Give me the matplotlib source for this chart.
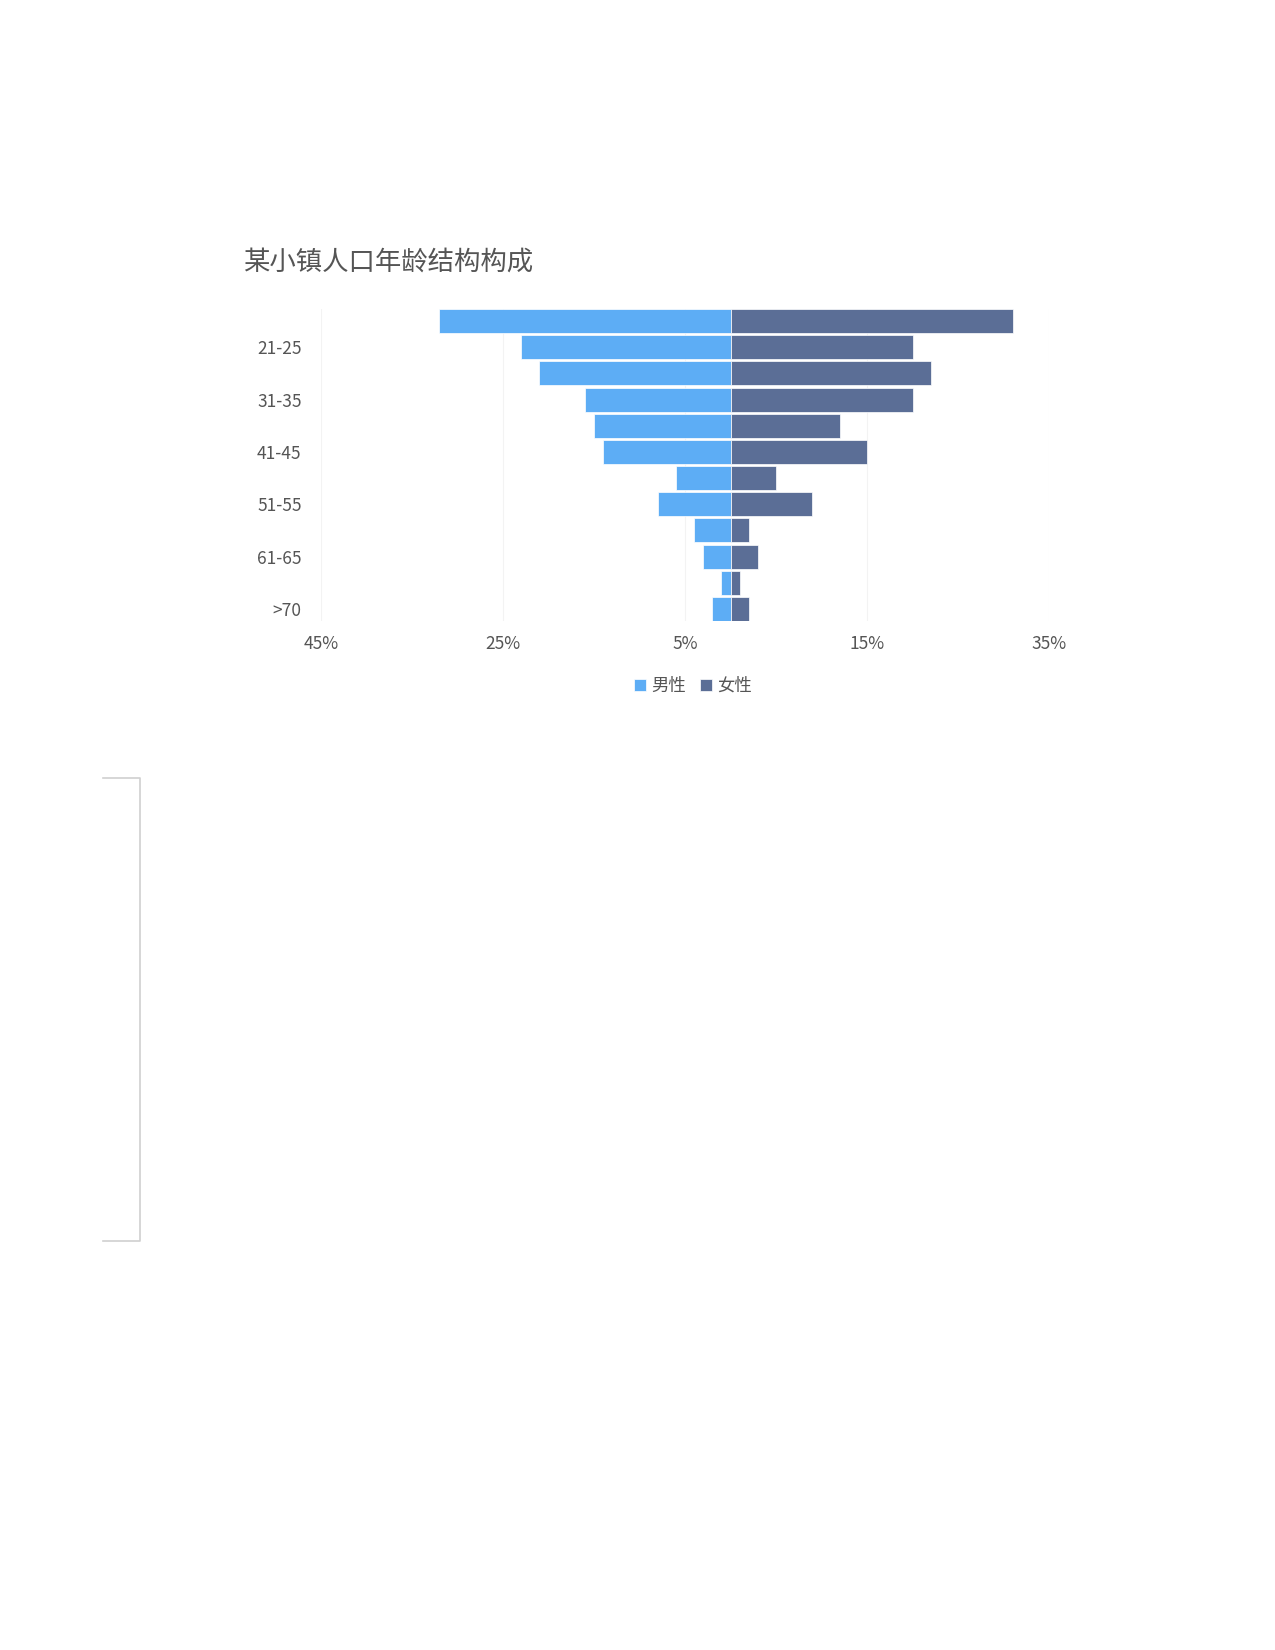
import numpy as np
import matplotlib.pyplot as plt
from matplotlib.lines import Line2D

plt.rcParams['font.family'] = ['Noto Sans CJK SC', 'DejaVu Sans']

# age groups, top to bottom
ages = ['16-20', '21-25', '26-30', '31-35', '36-40', '41-45',
        '46-50', '51-55', '56-60', '61-65', '66-70', '>70']
male = [32, 23, 21, 16, 15, 14, 6, 8, 4, 3, 1, 2]
female = [31, 20, 22, 20, 12, 15, 5, 9, 2, 3, 1, 2]
xticks = [-45, -25, -5, 15, 35]
xtick_labels = ['45%', '25%', '5%', '15%', '35%']

fig = plt.figure(figsize=(12.75, 16.5), dpi=100)
ax = fig.add_axes([321 / 1275, 1 - 621 / 1650, 728 / 1275, 312 / 1650])

y = np.arange(len(ages))[::-1]
ax.barh(y, [-m for m in male], height=0.92, color='#5DADF5', label='男性',
        edgecolor='white', linewidth=0.5)
ax.barh(y, female, height=0.92, color='#5B6E96', label='女性',
        edgecolor='white', linewidth=0.5)

ax.set_xlim(-45, 35)
ax.set_ylim(-0.46, 11.46)
ax.set_xticks(xticks)
ax.set_xticklabels(xtick_labels)
ax.set_yticks(y[1::2])
ax.set_yticklabels(ages[1::2])
ax.tick_params(length=0, labelsize=12.5, colors='#555555', pad=10)
ax.tick_params(axis='y', pad=14)
for s in ax.spines.values():
    s.set_visible(False)
ax.grid(axis='x', color='#f3f3f3', linewidth=0.8)
ax.set_axisbelow(True)

fig.text(243 / 1275, 1 - 262 / 1650, '某小镇人口年龄结构构成', fontsize=19,
         color='#555555', va='center')

fig.legend(loc='center', bbox_to_anchor=(693 / 1275, 1 - 686 / 1650), ncol=2,
           frameon=False, fontsize=12.5, handlelength=0.7, handleheight=0.7,
           columnspacing=0.8, handletextpad=0.3, labelcolor='#555555')

# light bracket at left
fig.add_artist(Line2D([103 / 1275, 140 / 1275, 140 / 1275, 103 / 1275],
                      [1 - 778 / 1650, 1 - 778 / 1650, 1 - 1241 / 1650, 1 - 1241 / 1650],
                      color='#d0d0d0', linewidth=1.2))

fig.savefig('out.png', dpi=100)
